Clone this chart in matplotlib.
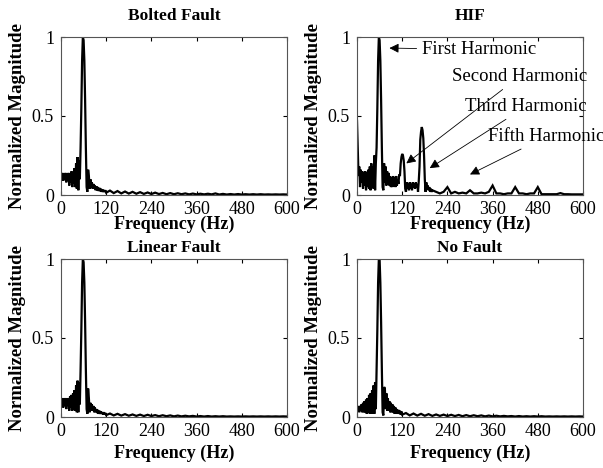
import numpy as np
import matplotlib
matplotlib.use("Agg")
import matplotlib.pyplot as plt

plt.rcParams['font.family'] = ['Liberation Serif', 'DejaVu Serif']

titles = ["Bolted Fault", "HIF", "Linear Fault", "No Fault"]
xticks = [0, 120, 240, 360, 480, 600]
yticks = [0, 0.5, 1]
ytick_labels = ["0", "0.5", "1"]

# ---- frequency grids (Hz) ----
f_low = list(range(0, 122, 2))          # 0..120 step 2
f_tail = list(range(130, 610, 10))      # 130..600 step 10
f_hif_low = list(range(0, 202, 2))      # 0..200 step 2
f_hif_tail = list(range(210, 610, 10))  # 210..600 step 10

# ---- Bolted Fault ----
bolted_low = [0.13, 0.10, 0.14, 0.09, 0.13, 0.10, 0.14, 0.08, 0.13, 0.09, 0.14,
              0.06, 0.13, 0.08, 0.15, 0.05, 0.14, 0.07, 0.17, 0.05, 0.20,
              0.04, 0.24, 0.03, 0.22, 0.10, 0.30, 0.55, 0.85, 1.00, 0.98,
              0.85, 0.60, 0.30, 0.05, 0.02, 0.16, 0.12, 0.04, 0.10, 0.05,
              0.08, 0.04, 0.07, 0.04, 0.06, 0.03, 0.055, 0.03, 0.05, 0.025,
              0.045, 0.025, 0.04, 0.02, 0.035, 0.02, 0.03, 0.02, 0.03, 0.015]
bolted_tail = [0.028, 0.012, 0.025, 0.010, 0.022, 0.009, 0.020, 0.008, 0.018, 0.007,
               0.016, 0.006, 0.015, 0.006, 0.013, 0.005, 0.012, 0.005, 0.011, 0.005,
               0.010, 0.004, 0.009, 0.004, 0.008, 0.004, 0.008, 0.004, 0.010, 0.003,
               0.007, 0.003, 0.006, 0.003, 0.006, 0.003, 0.005, 0.003, 0.005, 0.003,
               0.005, 0.003, 0.004, 0.003, 0.004, 0.003, 0.004, 0.003]

# ---- HIF ----
hif_low = [0.47, 0.30, 0.12, 0.18, 0.05, 0.16, 0.08, 0.15, 0.04, 0.14, 0.06,
           0.15, 0.03, 0.14, 0.05, 0.16, 0.04, 0.18, 0.03, 0.20, 0.05,
           0.18, 0.04, 0.25, 0.03, 0.20, 0.30, 0.55, 0.85, 1.00, 0.98,
           0.85, 0.60, 0.30, 0.05, 0.03, 0.20, 0.08, 0.18, 0.06, 0.15,
           0.07, 0.14, 0.06, 0.12, 0.05, 0.11, 0.05, 0.12, 0.06, 0.11,
           0.05, 0.12, 0.06, 0.10, 0.07, 0.13, 0.12, 0.20, 0.24, 0.26,
           0.25, 0.22, 0.15, 0.04, 0.02, 0.08, 0.04, 0.07, 0.03, 0.08,
           0.04, 0.07, 0.03, 0.08, 0.05, 0.07, 0.04, 0.08, 0.05, 0.07,
           0.02, 0.09, 0.18, 0.35, 0.40, 0.43, 0.41, 0.36, 0.25, 0.10,
           0.02, 0.08, 0.04, 0.06, 0.03, 0.05, 0.02, 0.04, 0.02, 0.03]
hif_tail = [0.02, 0.01, 0.02, 0.05, 0.01, 0.02, 0.01, 0.015, 0.01, 0.03,
            0.01, 0.01, 0.015, 0.01, 0.02, 0.06, 0.01, 0.01, 0.005, 0.01,
            0.01, 0.05, 0.01, 0.01, 0.005, 0.01, 0.01, 0.05, 0.005, 0.005,
            0.005, 0.005, 0.005, 0.012, 0.005, 0.005, 0.004, 0.004, 0.004, 0.004]

# ---- Linear Fault ----
linear_low = [0.10, 0.07, 0.12, 0.06, 0.11, 0.07, 0.12, 0.05, 0.11, 0.07, 0.12,
              0.04, 0.13, 0.06, 0.14, 0.04, 0.15, 0.05, 0.17, 0.04, 0.20,
              0.03, 0.23, 0.03, 0.22, 0.08, 0.30, 0.55, 0.85, 1.00, 0.98,
              0.85, 0.60, 0.30, 0.05, 0.02, 0.18, 0.12, 0.03, 0.09, 0.04,
              0.08, 0.04, 0.07, 0.03, 0.06, 0.03, 0.05, 0.025, 0.045, 0.02,
              0.04, 0.02, 0.035, 0.02, 0.03, 0.015, 0.03, 0.015, 0.025, 0.012]
linear_tail = [0.022, 0.010, 0.020, 0.009, 0.018, 0.008, 0.016, 0.007, 0.015, 0.006,
               0.014, 0.006, 0.012, 0.005, 0.011, 0.005, 0.010, 0.004, 0.009, 0.004,
               0.008, 0.004, 0.007, 0.003, 0.006, 0.003, 0.006, 0.003, 0.005, 0.003,
               0.005, 0.003, 0.004, 0.003, 0.004, 0.003, 0.004, 0.003, 0.004, 0.003,
               0.004, 0.003, 0.004, 0.003, 0.004, 0.003, 0.004, 0.003]

# ---- No Fault ----
nofault_low = [0.06, 0.04, 0.07, 0.03, 0.07, 0.04, 0.08, 0.03, 0.09, 0.03, 0.10,
               0.03, 0.11, 0.02, 0.12, 0.03, 0.14, 0.02, 0.15, 0.02, 0.17,
               0.02, 0.20, 0.02, 0.22, 0.05, 0.30, 0.55, 0.85, 1.00, 1.00,
               0.85, 0.60, 0.30, 0.03, 0.01, 0.19, 0.18, 0.05, 0.15, 0.04,
               0.12, 0.04, 0.10, 0.03, 0.09, 0.03, 0.08, 0.03, 0.07, 0.02,
               0.06, 0.02, 0.05, 0.02, 0.045, 0.02, 0.04, 0.015, 0.035, 0.015]
nofault_tail = [0.025, 0.010, 0.022, 0.009, 0.020, 0.008, 0.018, 0.007, 0.016, 0.007,
                0.015, 0.006, 0.014, 0.006, 0.013, 0.005, 0.012, 0.005, 0.011, 0.005,
                0.010, 0.004, 0.009, 0.004, 0.008, 0.004, 0.007, 0.004, 0.006, 0.003,
                0.006, 0.003, 0.005, 0.003, 0.005, 0.003, 0.005, 0.003, 0.004, 0.003,
                0.004, 0.003, 0.004, 0.003, 0.004, 0.003, 0.004, 0.003]

series = [
    (f_low + f_tail, bolted_low + bolted_tail),
    (f_hif_low + f_hif_tail, hif_low + hif_tail),
    (f_low + f_tail, linear_low + linear_tail),
    (f_low + f_tail, nofault_low + nofault_tail),
]

# annotations for HIF: (text, text xy, arrow tip xy)
ann_texts = ["First Harmonic", "Second Harmonic", "Third Harmonic", "Fifth Harmonic"]
ann_text_xy = [(173, 0.92), (252, 0.75), (287, 0.56), (348, 0.37)]
ann_tip_xy = [(86, 0.93), (131, 0.20), (193, 0.17), (300, 0.13)]

W, H = 603, 468
fig = plt.figure(figsize=(W / 100, H / 100), dpi=100)

boxes = [
    (61, 37, 287, 195),
    (357, 37, 583, 195),
    (61, 259, 287, 417),
    (357, 259, 583, 417),
]
title_pads = [12, 12, 5, 5]
xlabel_pads = [-1, -1, 3.5, 3.5]

spine_col = '#555555'
for i, (x0, y0, x1, y1) in enumerate(boxes):
    ax = fig.add_axes([x0 / W, 1 - y1 / H, (x1 - x0) / W, (y1 - y0) / H])
    fx, fy = series[i]
    ax.plot(fx, fy, color='black', lw=1.6, solid_joinstyle='miter')
    ax.set_xlim(0, 600)
    ax.set_ylim(0, 1)
    ax.set_xticks(xticks)
    ax.set_xticklabels([str(t) for t in xticks])
    ax.set_yticks(yticks)
    ax.set_yticklabels(ytick_labels)
    ax.tick_params(direction='in', top=True, right=True, length=3, width=0.8,
                   labelsize=13, color='black')
    ax.tick_params(axis='x', pad=4)
    ax.tick_params(axis='y', pad=5)
    for s in ax.spines.values():
        s.set_color(spine_col)
        s.set_linewidth(0.8)
    ax.set_title(titles[i], fontsize=12.5, fontweight='bold', pad=title_pads[i])
    ax.set_xlabel("Frequency (Hz)", fontsize=13, fontweight='bold',
                  labelpad=xlabel_pads[i])
    ax.set_ylabel("Normalized Magnitude", fontsize=13.5, fontweight='bold',
                  labelpad=4)

    if i == 1:
        for txt, txy, tip in zip(ann_texts, ann_text_xy, ann_tip_xy):
            ax.annotate(txt, xy=tip, xytext=txy, textcoords='data',
                        fontsize=13.5, va='center', ha='left',
                        annotation_clip=False,
                        arrowprops=dict(arrowstyle='-|>', color='black', lw=0.6,
                                        mutation_scale=14, shrinkA=2, shrinkB=0))

fig.savefig("out.png", dpi=100)
